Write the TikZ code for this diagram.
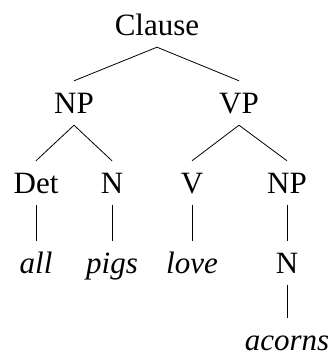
\documentclass[tikz,border=0pt]{standalone}
\usepackage{fontspec}
\setmainfont{Liberation Serif}
\begin{document}
\begin{tikzpicture}[x=1pt,y=1pt,
  lab/.style={anchor=base,inner xsep=0pt,inner ysep=12pt,text height=20pt,text depth=0pt,font=\fontsize{31}{34}\selectfont},
  word/.style={lab,font=\fontsize{31}{34}\selectfont\itshape},
  edge/.style={draw=black,line width=0.8pt}]
\useasboundingbox (0,0) rectangle (332,-356);
\node[lab] (clause) at (157,-35) {Clause};
\node[lab] (np1) at (74,-113) {NP};
\node[lab] (vp) at (239,-113) {VP};
\node[lab] (det) at (36,-193) {Det};
\node[lab] (n1) at (112,-193) {N};
\node[lab] (v) at (192,-193) {V};
\node[lab] (np2) at (287,-193) {NP};
\node[word] (all) at (36,-273) {all};
\node[word] (pigs) at (112,-273) {pigs};
\node[word] (love) at (192,-273) {love};
\node[lab] (n2) at (287,-273) {N};
\node[word] (acorns) at (287,-350) {acorns};
\draw[edge] (clause.south) -- (np1.north);
\draw[edge] (clause.south) -- (vp.north);
\draw[edge] (np1.south) -- (det.north);
\draw[edge] (np1.south) -- (n1.north);
\draw[edge] (vp.south) -- (v.north);
\draw[edge] (vp.south) -- (np2.north);
\draw[edge] (det.south) -- (all.north);
\draw[edge] (n1.south) -- (pigs.north);
\draw[edge] (v.south) -- (love.north);
\draw[edge] (np2.south) -- (n2.north);
\draw[edge] (n2.south) -- (acorns.north);
\end{tikzpicture}
\end{document}
